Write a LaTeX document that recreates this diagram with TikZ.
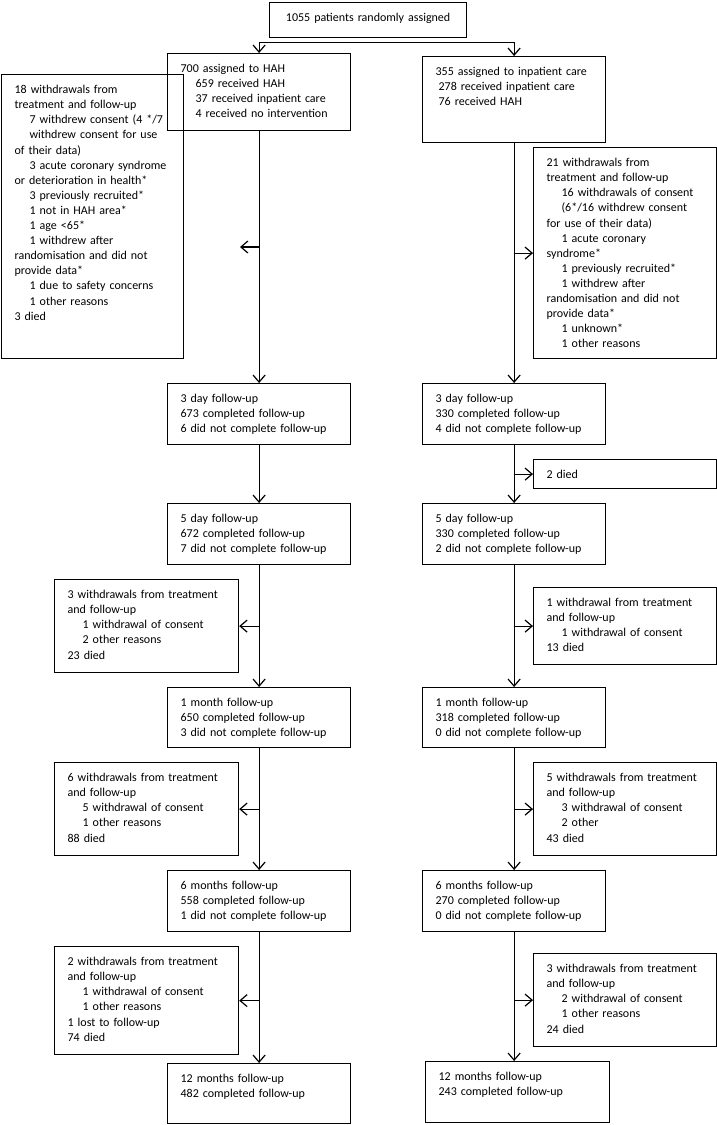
\documentclass[tikz,border=0pt]{standalone}
\usepackage{fontspec}
\setmainfont{Carlito}
\usetikzlibrary{arrows.meta}

\newcommand\indnt{\hspace*{15pt}}

\begin{document}
\begin{tikzpicture}[x=1pt,y=-1pt,
  box/.style 2 args={draw,line width=1.2pt,anchor=north west,align=left,
    inner xsep=13pt,inner ysep=4pt,text width=#1-26pt,
    text height=15pt,text depth=#2-23pt,font=\fontsize{12}{15.1}\selectfont},
  arr/.style={line width=1.2pt,-{Straight Barb[length=7pt,width=12pt]}}]
\useasboundingbox (0,0) rectangle (717,1125);

\node[box={197}{35},align=center] (rand) at (269,2) {1055 patients randomly assigned};
\node[box={183}{77}] (hah) at (167,53) {700 assigned to HAH\\\indnt 659 received HAH\\\indnt 37 received inpatient care\\\indnt 4 received no intervention};
\node[box={183}{86}] (inp) at (422,56) {355 assigned to inpatient care\\\hspace*{3pt}278 received inpatient care\\\hspace*{3pt}76 received HAH};
\node[box={182}{284}] (wh1) at (1,74) {18 withdrawals from\\treatment and follow-up\\\indnt 7 withdrew consent (4 */7\\\indnt withdrew consent for use\\of their data)\\\indnt 3 acute coronary syndrome\\or deterioration in health*\\\indnt 3 previously recruited*\\\indnt 1 not in HAH area*\\\indnt 1 age <65*\\\indnt 1 withdrew after\\randomisation and did not\\provide data*\\\indnt 1 due to safety concerns\\\indnt 1 other reasons\\3 died};
\node[box={183}{211}] (wi1) at (533,147) {21 withdrawals from\\treatment and follow-up\\\indnt 16 withdrawals of consent\\\indnt (6*/16 withdrew consent\\for use of their data)\\\indnt 1 acute coronary\\syndrome*\\\indnt 1 previously recruited*\\\indnt 1 withdrew after\\randomisation and did not\\provide data*\\\indnt 1 unknown*\\\indnt 1 other reasons};

\node[box={183}{61}] (h3) at (167,383) {3 day follow-up\\673 completed follow-up\\6 did not complete follow-up};
\node[box={183}{61}] (i3) at (422,383) {3 day follow-up\\330 completed follow-up\\4 did not complete follow-up};
\node[box={183}{29}] (idied) at (533,459) {2 died};
\node[box={183}{61}] (h5) at (167,503) {5 day follow-up\\672 completed follow-up\\7 did not complete follow-up};
\node[box={183}{61}] (i5) at (422,503) {5 day follow-up\\330 completed follow-up\\2 did not complete follow-up};
\node[box={184}{93}] (wh2) at (54,579) {3 withdrawals from treatment\\and follow-up\\\indnt 1 withdrawal of consent\\\indnt 2 other reasons\\23 died};
\node[box={183}{77}] (wi2) at (533,587) {1 withdrawal from treatment\\and follow-up\\\indnt 1 withdrawal of consent\\13 died};
\node[box={183}{60}] (h1m) at (167,687) {1 month follow-up\\650 completed follow-up\\3 did not complete follow-up};
\node[box={183}{60}] (i1m) at (422,687) {1 month follow-up\\318 completed follow-up\\0 did not complete follow-up};
\node[box={184}{93}] (wh3) at (54,762) {6 withdrawals from treatment\\and follow-up\\\indnt 5 withdrawal of consent\\\indnt 1 other reasons\\88 died};
\node[box={183}{93}] (wi3) at (533,762) {5 withdrawals from treatment\\and follow-up\\\indnt 3 withdrawal of consent\\\indnt 2 other\\43 died};
\node[box={183}{61}] (h6m) at (167,870) {6 months follow-up\\558 completed follow-up\\1 did not complete follow-up};
\node[box={183}{61}] (i6m) at (422,870) {6 months follow-up\\270 completed follow-up\\0 did not complete follow-up};
\node[box={184}{108}] (wh4) at (54,946) {2 withdrawals from treatment\\and follow-up\\\indnt 1 withdrawal of consent\\\indnt 1 other reasons\\1 lost to follow-up\\74 died};
\node[box={183}{93}] (wi4) at (533,953) {3 withdrawals from treatment\\and follow-up\\\indnt 2 withdrawal of consent\\\indnt 1 other reasons\\24 died};
\node[box={183}{60}] (h12m) at (167,1063) {12 months follow-up\\482 completed follow-up};
\node[box={184}{61}] (i12m) at (425,1061) {12 months follow-up\\243 completed follow-up};

\draw[arr] (rand.south) ++(0,4) coordinate (split) -| (hah.north);
\draw[arr] (split) -| (inp.north);

\coordinate (wh1in) at (240,247);
\draw[arr] (hah) -- (h3);
\draw[arr] (hah.south |- wh1in) -- (wh1in);
\draw[arr] (h3) -- (h5);
\draw[arr] (h5) -- (h1m);
\draw[arr] (h5.south |- wh2.east) -- (wh2.east);
\draw[arr] (h1m) -- (h6m);
\draw[arr] (h1m.south |- wh3.east) -- (wh3.east);
\draw[arr] (h6m) -- (h12m);
\draw[arr] (h6m.south |- wh4.east) -- (wh4.east);

\draw[arr] (inp) -- (i3);
\draw[arr] (inp.south |- wi1.west) -- (wi1.west);
\draw[arr] (i3) -- (i5);
\draw[arr] (i3.south |- idied.west) -- (idied.west);
\draw[arr] (i5) -- (i1m);
\draw[arr] (i5.south |- wi2.west) -- (wi2.west);
\draw[arr] (i1m) -- (i6m);
\draw[arr] (i1m.south |- wi3.west) -- (wi3.west);
\draw[arr] (i6m.south) -- (i6m.south |- i12m.north);
\draw[arr] (i6m.south |- wi4.west) -- (wi4.west);
\end{tikzpicture}
\end{document}
